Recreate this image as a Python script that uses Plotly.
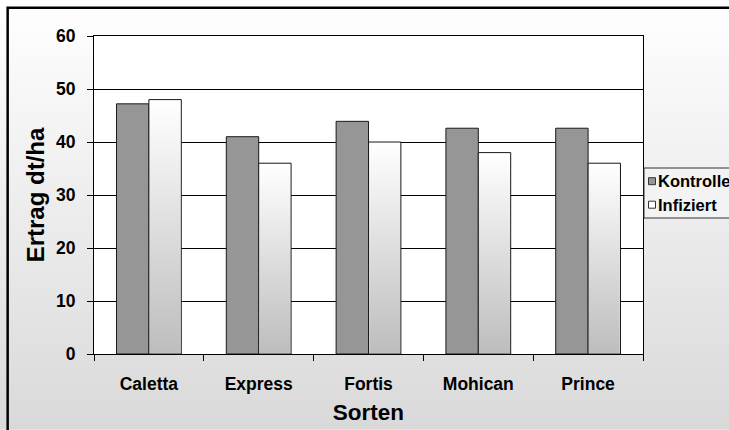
import base64
import plotly.graph_objects as go

# Ertrag (dt/ha) je Sorte, Kontrolle vs. infiziert
sorten = ["Caletta", "Express", "Fortis", "Mohican", "Prince"]
kontrolle = [47.2, 41.0, 43.9, 42.6, 42.6]
infiziert = [48.0, 36.0, 40.0, 38.0, 36.0]
y_ticks = [0, 10, 20, 30, 40, 50, 60]

W, H = 729, 430
L, R, T, B = 94.3, 86.0, 36.3, 75.7
PW, PH = W - L - R, H - T - B
BARGAP = 0.41
BAR_W = (1 - BARGAP) / 2
FONT = "Liberation Sans"


def px2x(px):
    return (px - L) / PW


def px2y(py):
    return 1 - (py - T) / PH


def svg_uri(svg):
    return "data:image/svg+xml;base64," + base64.b64encode(svg.encode()).decode()


def vgrad(top, bottom):
    return svg_uri(
        "<svg xmlns='http://www.w3.org/2000/svg' width='10' height='100' "
        "viewBox='0 0 10 100' preserveAspectRatio='none'>"
        "<defs><linearGradient id='g' x1='0' y1='0' x2='0' y2='1'>"
        f"<stop offset='0' stop-color='{top}'/><stop offset='1' stop-color='{bottom}'/>"
        "</linearGradient></defs><rect width='10' height='100' fill='url(#g)'/></svg>"
    )


fig = go.Figure()
fig.add_trace(go.Bar(
    name="Kontrolle", x=sorten, y=kontrolle,
    marker=dict(color="#969696", line=dict(color="#1a1a1a", width=1)),
))
fig.add_trace(go.Bar(
    name="Infiziert", x=sorten, y=infiziert,
    marker=dict(color="#e4e4e4", line=dict(color="#1a1a1a", width=1)),
))

images = [
    # sheet background: white at the top fading to light grey
    dict(source=vgrad("#ffffff", "#d9d9d9"), xref="paper", yref="paper",
         x=px2x(0), y=px2y(0), sizex=W / PW, sizey=H / PH,
         xanchor="left", yanchor="top", sizing="stretch", layer="below"),
]

# gradient fill for the "Infiziert" bars, inset so the outline stays visible
ux = PW / len(sorten)
uy = PH / (y_ticks[-1] - y_ticks[0])
ix, iy = 0.7 / ux, 0.7 / uy
bar_grad = vgrad("#ffffff", "#bdbdbd")
for i, v in enumerate(infiziert):
    images.append(dict(
        source=bar_grad, xref="x", yref="y",
        x=i + ix, y=v - iy, sizex=BAR_W - 2 * ix, sizey=v - 2 * iy,
        xanchor="left", yanchor="top", sizing="stretch", layer="above",
    ))

shapes = [
    # white plot area above the sheet gradient
    dict(type="rect", xref="x domain", yref="y domain", x0=0, x1=1, y0=0, y1=1,
         fillcolor="white", line=dict(width=0), layer="below"),
    # chart frame (left and top edges)
    dict(type="rect", xref="paper", yref="paper",
         x0=px2x(8), x1=px2x(W + 20), y0=px2y(H + 20), y1=px2y(8),
         line=dict(color="black", width=2.5), fillcolor="rgba(0,0,0,0)", layer="above"),
    # legend box
    dict(type="rect", xref="paper", yref="paper",
         x0=px2x(644), x1=px2x(W + 20), y0=px2y(218.3), y1=px2y(168.3),
         line=dict(color="#333333", width=1), fillcolor="#f3f3f3", layer="above"),
]

legend_rows = [("Kontrolle", "#969696", 181.5), ("Infiziert", "#ffffff", 205.0)]
annotations = []
for label, color, cy in legend_rows:
    shapes.append(dict(type="rect", xref="paper", yref="paper",
                       x0=px2x(648.5), x1=px2x(655.5), y0=px2y(cy + 3.5), y1=px2y(cy - 3.5),
                       line=dict(color="#333333", width=1), fillcolor=color, layer="above"))
    annotations.append(dict(text=label, xref="paper", yref="paper",
                            x=px2x(656), y=px2y(cy), xanchor="left", yanchor="middle",
                            showarrow=False,
                            font=dict(family=FONT, size=16.5, color="black", weight="bold")))

fig.update_layout(
    width=W, height=H,
    margin=dict(l=L, r=R, t=T, b=B, pad=0, autoexpand=False),
    barmode="group", bargap=BARGAP, bargroupgap=0,
    plot_bgcolor="white", paper_bgcolor="#ececec",
    showlegend=False,
    images=images, shapes=shapes, annotations=annotations,
    font=dict(family=FONT, color="black"),
)

fig.update_xaxes(
    type="category", tickson="boundaries", automargin=False,
    ticks="outside", ticklen=6, tickcolor="black", tickwidth=1,
    showline=True, linecolor="black", linewidth=1, mirror=True,
    showgrid=False, ticklabelstandoff=14,
    tickfont=dict(family=FONT, size=17.5, color="black", weight="bold"),
    title=dict(text="Sorten", standoff=11,
               font=dict(family=FONT, size=22.5, color="black", weight="bold")),
)
fig.update_yaxes(
    range=[y_ticks[0], y_ticks[-1]], tickvals=y_ticks, automargin=False,
    ticks="outside", ticklen=6, tickcolor="black", tickwidth=1,
    showline=True, linecolor="black", linewidth=1, mirror=True,
    showgrid=True, gridcolor="black", gridwidth=1, zeroline=False,
    ticklabelstandoff=8,
    tickfont=dict(family=FONT, size=17.5, color="black", weight="bold"),
    title=dict(text="Ertrag dt/ha", standoff=4,
               font=dict(family=FONT, size=24, color="black", weight="bold")),
)

fig.write_html("out.html")
